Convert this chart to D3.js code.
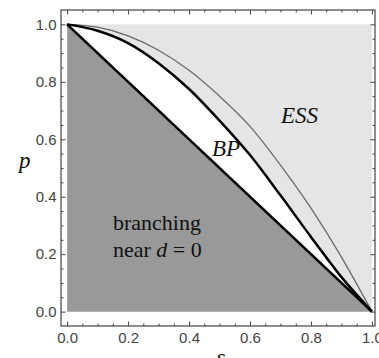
<!DOCTYPE html>
<html lang="en">
<head>
  <meta charset="UTF-8">
  <title>BP / ESS regions</title>
  <script src="https://d3js.org/d3.v7.min.js"></script>
  <style>
    body { margin: 0; background: #fff; }
    .sans { font-family: "Liberation Sans", Arimo, Arial, sans-serif; }
    .serif { font-family: "Liberation Serif", Tinos, "Times New Roman", "DejaVu Serif", serif; }
  </style>
</head>
<body>
<div id="chart"></div>
<script>
// values
const sVals = [0, 0.1, 0.2, 0.3, 0.4, 0.5, 0.6, 0.7, 0.8, 0.9, 1.0];
const bpP   = [1, 0.978, 0.935, 0.865, 0.775, 0.665, 0.545, 0.405, 0.26, 0.12, 0];   // thick curve
const essP  = [1, 0.99, 0.96, 0.91, 0.84, 0.75, 0.645, 0.51, 0.36, 0.19, 0];        // thin curve
const diagS = [0, 1];
const diagP = [1, 0];
const majorTicks = [0, 0.2, 0.4, 0.6, 0.8, 1.0];
const minorTicks = [0.05, 0.1, 0.15, 0.25, 0.3, 0.35, 0.45, 0.5, 0.55, 0.65, 0.7, 0.75, 0.85, 0.9, 0.95];

const W = 379, H = 358;
const frame = { left: 61, right: 375, top: 10, bottom: 326 };

const svg = d3.select("#chart").append("svg")
    .attr("width", W)
    .attr("height", H);

const x = d3.scaleLinear().domain([-0.02, 1.01]).range([frame.left, frame.right]);
const y = d3.scaleLinear().domain([-0.05, 1.05]).range([frame.bottom, frame.top]);

const bp = sVals.map((s, i) => ({ s: s, p: bpP[i] }));
const ess = sVals.map((s, i) => ({ s: s, p: essP[i] }));
const diag = diagS.map((s, i) => ({ s: s, p: diagP[i] }));

// light gray background of the unit square
svg.append("rect")
    .attr("x", x(0)).attr("y", y(1))
    .attr("width", x(1) - x(0)).attr("height", y(0) - y(1))
    .attr("fill", "#e5e5e5");

// white under the BP curve
const area = d3.area()
    .x(d => x(d.s))
    .y0(y(0))
    .y1(d => y(d.p))
    .curve(d3.curveMonotoneX);

svg.append("path").datum(bp).attr("d", area).attr("fill", "#fff");

// dark gray triangle below the diagonal
svg.append("path").datum(diag)
    .attr("d", d3.area().x(d => x(d.s)).y0(y(0)).y1(d => y(d.p)))
    .attr("fill", "#999");

const line = d3.line()
    .x(d => x(d.s))
    .y(d => y(d.p))
    .curve(d3.curveMonotoneX);

svg.append("path").datum(ess).attr("d", line)
    .attr("fill", "none").attr("stroke", "#6a6a6a").attr("stroke-width", 1.3);

svg.append("path").datum(bp).attr("d", line)
    .attr("fill", "none").attr("stroke", "#000").attr("stroke-width", 2.5);

svg.append("path").datum(diag).attr("d", d3.line().x(d => x(d.s)).y(d => y(d.p)))
    .attr("fill", "none").attr("stroke", "#000").attr("stroke-width", 2.6);

// frame
svg.append("rect")
    .attr("x", frame.left).attr("y", frame.top)
    .attr("width", frame.right - frame.left).attr("height", frame.bottom - frame.top)
    .attr("fill", "none").attr("stroke", "#444").attr("stroke-width", 1.2);

const fmt = d3.format(".1f");

function addAxis(axisFn, scale, transform, size, labels, ticks) {
    const g = svg.append("g")
        .attr("transform", transform)
        .call(axisFn(scale).tickValues(ticks).tickSize(size).tickSizeOuter(0)
            .tickPadding(labels ? (axisFn === d3.axisBottom ? 6.5 : 4.5) : 0)
            .tickFormat(labels ? fmt : ""));
    g.select(".domain").remove();
    g.attr("font-family", null).attr("font-size", 15);
    g.selectAll(".tick line").attr("stroke", "#444");
    g.selectAll(".tick text").attr("class", "sans").attr("fill", "#444");
    return g;
}

// major + minor ticks on all four sides, pointing inward
addAxis(d3.axisBottom, x, `translate(0,${frame.bottom})`, -4.5, true, majorTicks);
addAxis(d3.axisBottom, x, `translate(0,${frame.bottom})`, -2.5, false, minorTicks);
addAxis(d3.axisTop, x, `translate(0,${frame.top})`, -4.5, false, majorTicks);
addAxis(d3.axisTop, x, `translate(0,${frame.top})`, -2.5, false, minorTicks);
addAxis(d3.axisLeft, y, `translate(${frame.left},0)`, -4.5, true, majorTicks);
addAxis(d3.axisLeft, y, `translate(${frame.left},0)`, -2.5, false, minorTicks);
addAxis(d3.axisRight, y, `translate(${frame.right},0)`, -4.5, false, majorTicks);
addAxis(d3.axisRight, y, `translate(${frame.right},0)`, -2.5, false, minorTicks);

function label(xp, yp, size, italic) {
    return svg.append("text")
        .attr("class", "serif")
        .attr("x", xp).attr("y", yp)
        .attr("font-size", size)
        .attr("font-style", italic ? "italic" : "normal")
        .attr("fill", "#111");
}

// axis labels
label(221, 365, 23, true).attr("text-anchor", "middle").text("s");
label(19, 168, 23, true).text("p");

// region labels
label(281, 123, 23, true).text("ESS");
label(212, 156, 23, true).text("BP");
label(113, 230, 22, false).text("branching");

const near = label(113, 257, 22, false);
near.append("tspan").text("near ");
near.append("tspan").attr("font-style", "italic").text("d");
near.append("tspan").text(" = 0");
</script>
</body>
</html>
